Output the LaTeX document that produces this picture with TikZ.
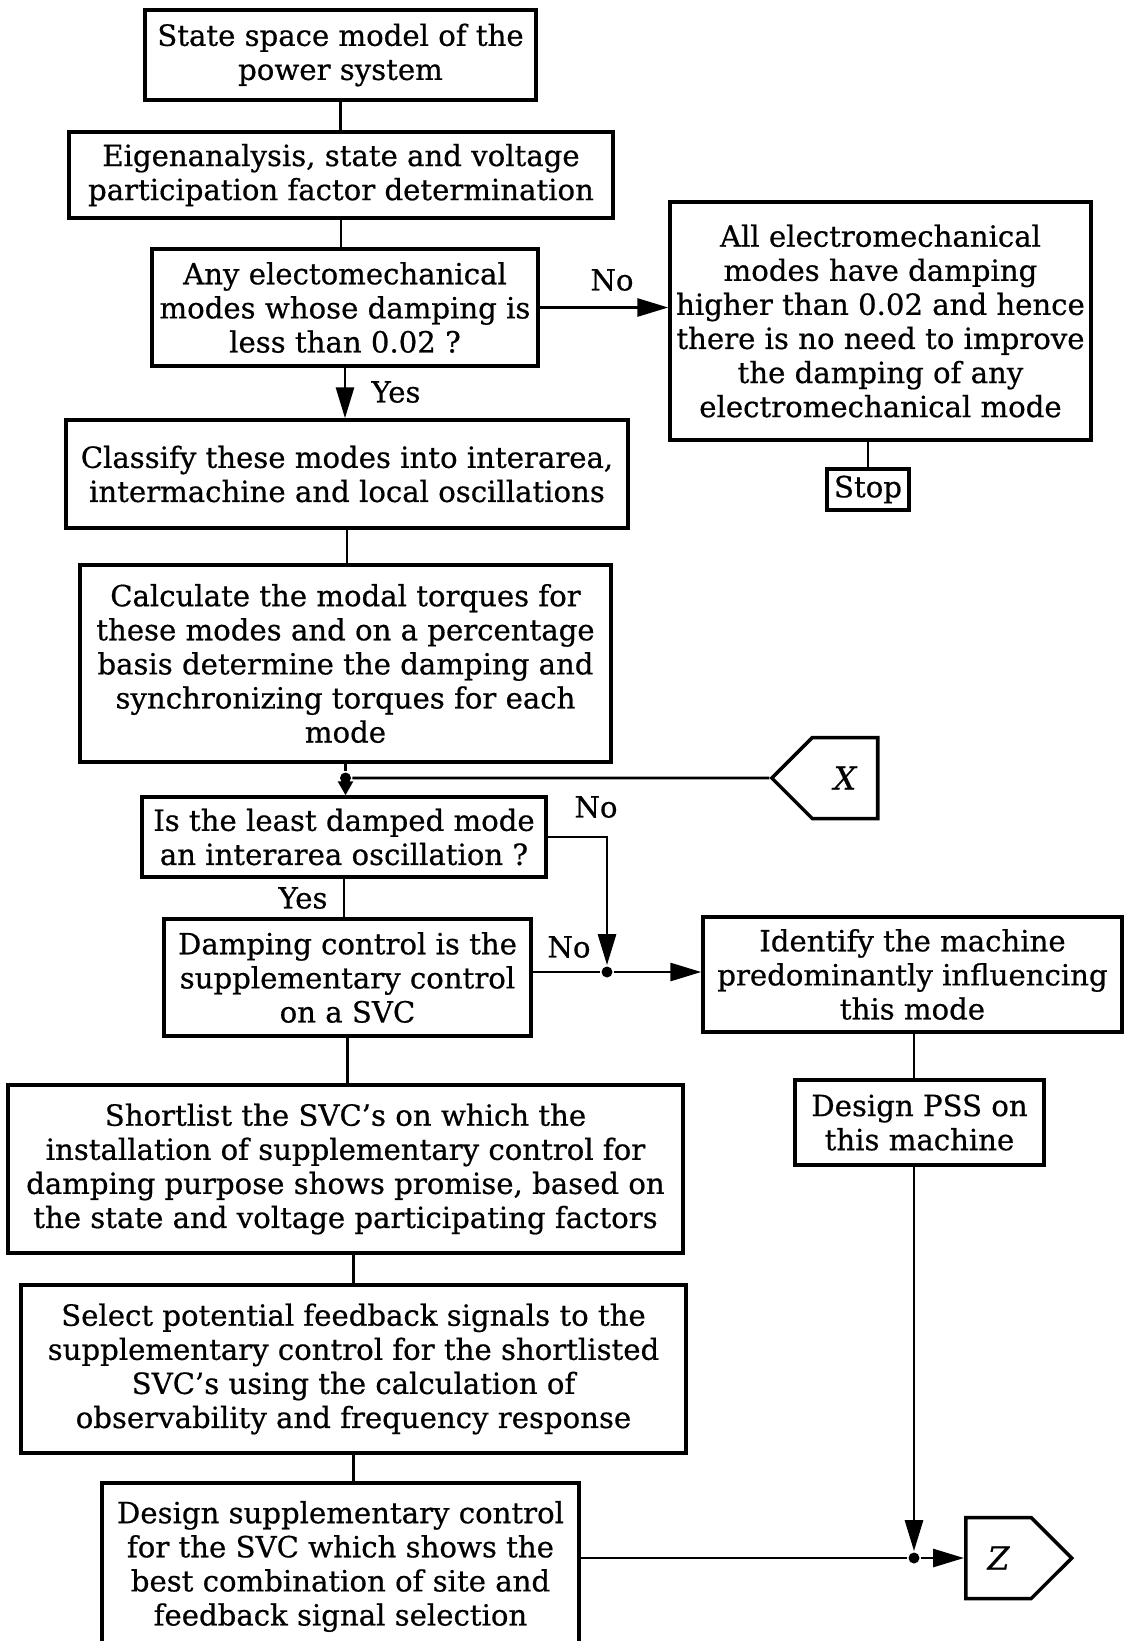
\documentclass[tikz,border=0pt]{standalone}
\usepackage{fontspec}
\setmainfont{DejaVu Serif}[FakeBold=0.6]
\usetikzlibrary{calc,positioning,shapes.symbols,arrows.meta}

\begin{document}
\begin{tikzpicture}[x=0.02cm,y=-0.02cm,line width=1.6pt,
  b/.style={draw,line width=2pt,align=center,inner sep=0pt,
            font=\fontsize{16.6}{19.4}\selectfont},
  lb/.style={inner sep=0pt,font=\fontsize{16.6}{19.4}\selectfont},
  a/.style={-{Triangle[length=0.62cm,width=0.36cm]}},
  a2/.style={-{Triangle[length=0.28cm,width=0.3cm]}},
  dot/.style={circle,fill,inner sep=0pt,minimum size=0.22cm},
  pent/.style={draw,line width=2pt,shape=signal,signal pointer angle=90,
               minimum width=2.12cm,minimum height=1.62cm,inner sep=0pt,
               font=\fontsize{18}{19}\selectfont\itshape}]
  \useasboundingbox (0,0) rectangle (1125,1641);
  \node[b,minimum width=7.82cm,minimum height=1.80cm] (model) at (340.5,55)
    {State space model of the\\power system};
  \node[b,minimum width=10.88cm,minimum height=1.72cm] (eig) at (341,175)
    {Eigenanalysis, state and voltage\\participation factor determination};
  \node[b,minimum width=7.72cm,minimum height=2.34cm] (any) at (345,307.5)
    {Any electomechanical\\modes whose damping is\\less than 0.02 ?};
  \node[b,minimum width=8.42cm,minimum height=4.76cm] (all) at (880.5,321)
    {All electromechanical\\modes have damping\\higher than 0.02 and hence\\there is no need to improve\\the damping of any\\electromechanical mode};
  \node[b,minimum width=1.64cm,minimum height=0.82cm] (stop) at (868,489.5) {Stop};
  \node[b,minimum width=11.24cm,minimum height=2.16cm] (cls) at (347,474)
    {Classify these modes into interarea,\\intermachine and local oscillations};
  \node[b,minimum width=10.62cm,minimum height=3.94cm] (calc) at (345.5,663.5)
    {Calculate the modal torques for\\these modes and on a percentage\\basis determine the damping and\\synchronizing torques for each\\mode};
  \node[pent,signal to=west] (X) at (845,778) {X\hspace{0.5cm}};
  \node[b,minimum width=8.08cm,minimum height=1.60cm] (least) at (344,837)
    {Is the least damped mode\\an interarea oscillation ?};
  \node[b,minimum width=7.34cm,minimum height=2.34cm] (svc) at (347.5,977.5)
    {Damping control is the\\supplementary control\\on a SVC};
  \node[b,minimum width=8.38cm,minimum height=2.30cm] (ident) at (912.5,974.5)
    {Identify the machine\\predominantly influencing\\this mode};
  \node[b,minimum width=4.98cm,minimum height=1.70cm] (pss) at (919.5,1122.5)
    {Design PSS on\\this machine};
  \node[b,minimum width=13.5cm,minimum height=3.36cm] (short) at (345.5,1169)
    {Shortlist the SVC's on which the\\installation of supplementary control for\\damping purpose shows promise, based on\\the state and voltage participating factors};
  \node[b,minimum width=13.3cm,minimum height=3.36cm] (sel) at (353.5,1369)
    {Select potential feedback signals to the\\supplementary control for the shortlisted\\SVC's using the calculation of\\observability and frequency response};
  \node[b,minimum width=9.54cm,minimum height=3.34cm] (des) at (340.5,1566.5)
    {Design supplementary control\\for the SVC which shows the\\best combination of site and\\feedback signal selection};
  \node[pent] (Z) at (998.5,1558) {Z\hspace{0.8cm}};
  \node[dot] (jx) at (calc.south |- X) {};
  \node[dot] (jn) at (607,972) {};
  \node[dot] (jz) at (914,1558) {};
  \node[lb] (no1) at (612,280) {No};
  \node[lb] (yes1) at (396,392) {Yes};
  \node[lb] (no2) at (596,807) {No};
  \node[lb] (yes2) at (303,898) {Yes};
  \node[lb] (no3) at (569,947) {No};
  \draw (model) -- (model |- eig.north);
  \draw (eig.south) -- (eig.south |- any.north);
  \draw[a] (any.south) -- (any.south |- cls.north);
  \draw[a] (any.east) -- (any.east -| all.west);
  \draw (stop) -- (stop |- all.south);
  \draw (cls.south) -- (cls.south |- calc.north);
  \draw (calc.south) -- (jx);
  \draw[a2] (jx) -- (jx |- least.north);
  \draw (X) -- (jx);
  \draw[a] (least.east) -| (jn);
  \draw (least.south) -- (least.south |- svc.north);
  \draw (svc.east |- jn) -- (jn);
  \draw[a] (jn) -- (jn -| ident.west);
  \draw (jz |- ident.south) -- (jz |- pss.north);
  \draw[a] (jz |- pss.south) -- (jz);
  \draw (svc.south) -- (svc.south |- short.north);
  \draw (sel.north) -- (sel.north |- short.south);
  \draw (sel.south) -- (sel.south |- des.north);
  \draw (des.east |- jz) -- (jz);
  \draw[a] (jz) -- (Z.west);
\end{tikzpicture}
\end{document}
